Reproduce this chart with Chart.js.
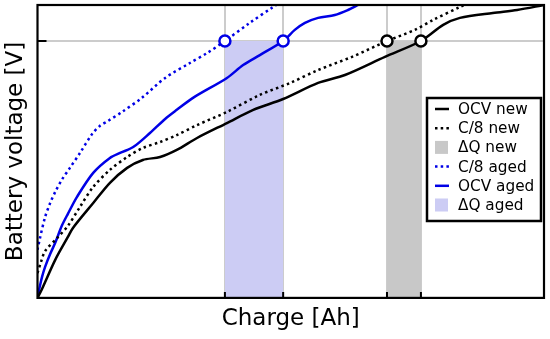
<!DOCTYPE html>
<html>
<head>
<meta charset="utf-8">
<script src="https://cdn.jsdelivr.net/npm/chart.js@4/dist/chart.umd.min.js"></script>
<style>
  html, body { margin: 0; padding: 0; background: #fff; }
  #wrap { width: 550px; height: 339px; position: relative; }
</style>
</head>
<body>
<div id="wrap"><canvas id="cv"></canvas></div>
<script>
// ─── values (charge 0..100, voltage 0..100, no units shown) ───
const ocvNewQ = [0, 0.8, 3.5, 6.0, 7.0, 11.0, 14.3, 17.7, 20.8, 24.2, 27.5, 31.5, 37.4, 42.6, 48.5, 55.4, 60.7, 68.6, 75.7, 80.1, 83.4, 89.9, 94.7, 100];
const ocvNewV = [0, 2.7, 13.0, 20.8, 23.9, 32.4, 39.3, 44.4, 47.1, 48.1, 50.5, 54.6, 59.7, 64.2, 67.9, 73.4, 76.1, 82.3, 87.7, 93.2, 95.6, 97.3, 98.3, 100];

const c8NewQ = [0, 0.7, 1.5, 3.9, 6.0, 8.4, 11.0, 14.3, 17.7, 20.8, 24.2, 27.5, 31.5, 37.4, 43.9, 49.9, 55.4, 62.1, 69.0, 74.5, 78.1, 83.4, 87.4];
const c8NewV = [8.5, 12.3, 16.0, 20.5, 24.6, 31.1, 37.9, 43.7, 48.1, 51.2, 53.2, 55.6, 59.0, 63.5, 69.3, 73.4, 77.8, 82.3, 87.7, 91.5, 94.9, 99.3, 102.7];

const ocvAgedQ = [0, 0.3, 0.9, 1.5, 2.5, 3.5, 4.8, 6.0, 7.8, 11.0, 14.3, 16.3, 18.9, 22.2, 25.2, 27.5, 30.7, 37.4, 40.6, 43.9, 48.5, 50.8, 52.8, 55.4, 58.7, 61.3, 63.3, 65.6];
const ocvAgedV = [0, 2.7, 7.2, 10.6, 15.0, 18.8, 24.6, 28.7, 34.5, 42.7, 47.8, 49.5, 51.5, 56.3, 61.1, 64.2, 68.3, 75.1, 79.5, 82.9, 87.7, 91.5, 93.9, 95.6, 96.6, 98.3, 100, 102];

const c8AgedQ = [0, 0.5, 1.5, 2.5, 3.5, 4.8, 6.4, 8.4, 10.8, 12.3, 13.9, 16.7, 20.6, 25.2, 30.1, 33.5, 37.0, 41.9, 46.5, 48.9];
const c8AgedV = [16.4, 20.5, 27.6, 32.4, 36.2, 40.3, 44.4, 49.5, 56.0, 58.7, 60.4, 63.5, 68.3, 75.1, 80.2, 83.6, 87.7, 93.9, 99.3, 102];

const cutoffV = 87.7;          // horizontal reference voltage
const dqNew = [69.0, 75.7];    // ΔQ new band edges
const dqAged = [37.0, 48.5];   // ΔQ aged band edges
const xTicks = [dqAged[0], dqAged[1], dqNew[0], dqNew[1]];
const yTicks = [cutoffV];

const legendOrder = ['OCV new', 'C/8 new', 'ΔQ new', 'C/8 aged', 'OCV aged', 'ΔQ aged'];

const BLUE = '#0000e6';
const pts = (xs, ys) => xs.map((x, i) => ({ x, y: ys[i] }));

function curve(label, xs, ys, color, dotted) {
  return {
    label, data: pts(xs, ys), borderColor: color, borderWidth: 2.5,
    borderDash: dotted ? [2.5, 3.3] : [], borderCapStyle: 'butt',
    pointRadius: 0, fill: false, tension: 0.3
  };
}
function band(label, edges, color) {
  return {
    label, data: edges.map(x => ({ x, y: cutoffV })), borderWidth: 0,
    borderColor: color, backgroundColor: color, pointRadius: 0, fill: 'origin', isBand: true
  };
}
function markers(edges, color) {
  return {
    label: '', data: edges.map(x => ({ x, y: cutoffV })), showLine: false,
    pointRadius: 5.5, pointHoverRadius: 5.5, pointBorderWidth: 2.5,
    pointBorderColor: color, pointBackgroundColor: '#fff', borderColor: color
  };
}

// dataset 0 is drawn on top
const datasets = [
  markers(dqAged, BLUE),
  markers(dqNew, '#000'),
  curve('OCV new', ocvNewQ, ocvNewV, '#000', false),
  curve('C/8 new', c8NewQ, c8NewV, '#000', true),
  curve('C/8 aged', c8AgedQ, c8AgedV, BLUE, true),
  curve('OCV aged', ocvAgedQ, ocvAgedV, BLUE, false),
  band('ΔQ new', dqNew, '#c8c8c8'),
  band('ΔQ aged', dqAged, '#ccccf4'),
];

// border all round + inward tick marks
const frame = {
  id: 'frame',
  afterDatasetsDraw(chart) {
    const { ctx, chartArea: a, scales: { x, y } } = chart;
    ctx.save();
    ctx.strokeStyle = '#000';
    ctx.lineWidth = 2;
    ctx.beginPath();
    xTicks.forEach(v => { const p = x.getPixelForValue(v); ctx.moveTo(p, a.bottom); ctx.lineTo(p, a.bottom - 6); });
    yTicks.forEach(v => { const p = y.getPixelForValue(v); ctx.moveTo(a.left, p); ctx.lineTo(a.left + 9, p); });
    ctx.stroke();
    ctx.lineWidth = 2.2;
    ctx.strokeRect(a.left, a.top, a.width, a.height);
    ctx.restore();
  }
};

// boxed legend inside the plot, lower right
const boxLegend = {
  id: 'boxLegend',
  afterDraw(chart) {
    const { ctx, chartArea: a } = chart;
    const left = a.right - 117, top = a.top + 93, w = 114, h = 123;
    ctx.save();
    ctx.fillStyle = '#fff';
    ctx.fillRect(left, top, w, h);
    ctx.strokeStyle = '#000';
    ctx.lineWidth = 2.5;
    ctx.strokeRect(left, top, w, h);
    ctx.font = '15.3px "DejaVu Sans"';
    ctx.textBaseline = 'middle';
    legendOrder.forEach((lbl, i) => {
      const ds = chart.data.datasets.find(d => d.label === lbl);
      const cy = top + 11 + i * 19.2;
      if (ds.isBand) {
        ctx.fillStyle = ds.backgroundColor;
        ctx.fillRect(left + 8, cy - 6.5, 13, 13);
      } else {
        ctx.strokeStyle = ds.borderColor;
        ctx.lineWidth = 2.5;
        ctx.setLineDash(ds.borderDash.length ? [2.5, 3.2] : []);
        ctx.beginPath();
        ctx.moveTo(left + 8, cy);
        ctx.lineTo(left + 22, cy);
        ctx.stroke();
        ctx.setLineDash([]);
      }
      ctx.fillStyle = '#000';
      ctx.fillText(lbl, left + 31, cy + 1);
    });
    ctx.restore();
  }
};

new Chart(document.getElementById('cv'), {
  type: 'line',
  data: { datasets },
  options: {
    responsive: true,
    maintainAspectRatio: false,
    animation: false,
    events: [],
    layout: { autoPadding: false, padding: { top: 5, right: 6, left: 0, bottom: 0 } },
    plugins: { legend: { display: false }, tooltip: { enabled: false } },
    scales: {
      x: {
        type: 'linear', min: 0, max: 100,
        afterBuildTicks: s => { s.ticks = xTicks.map(v => ({ value: v })); },
        ticks: { display: false },
        grid: { color: '#cccccc', lineWidth: 2, drawTicks: false },
        border: { display: false },
        title: { display: true, text: 'Charge [Ah]', color: '#000',
                 font: { family: 'DejaVu Sans', size: 23 }, padding: { top: 7, bottom: 6.5 } }
      },
      y: {
        type: 'linear', min: 0, max: 100,
        afterBuildTicks: s => { s.ticks = yTicks.map(v => ({ value: v })); },
        ticks: { display: false },
        grid: { color: '#cccccc', lineWidth: 2, drawTicks: false },
        border: { display: false },
        title: { display: true, text: 'Battery voltage [V]', color: '#000',
                 font: { family: 'DejaVu Sans', size: 23 }, padding: { top: 2.2, bottom: 7.7 } }
      }
    }
  },
  plugins: [frame, boxLegend]
});
</script>
</body>
</html>
